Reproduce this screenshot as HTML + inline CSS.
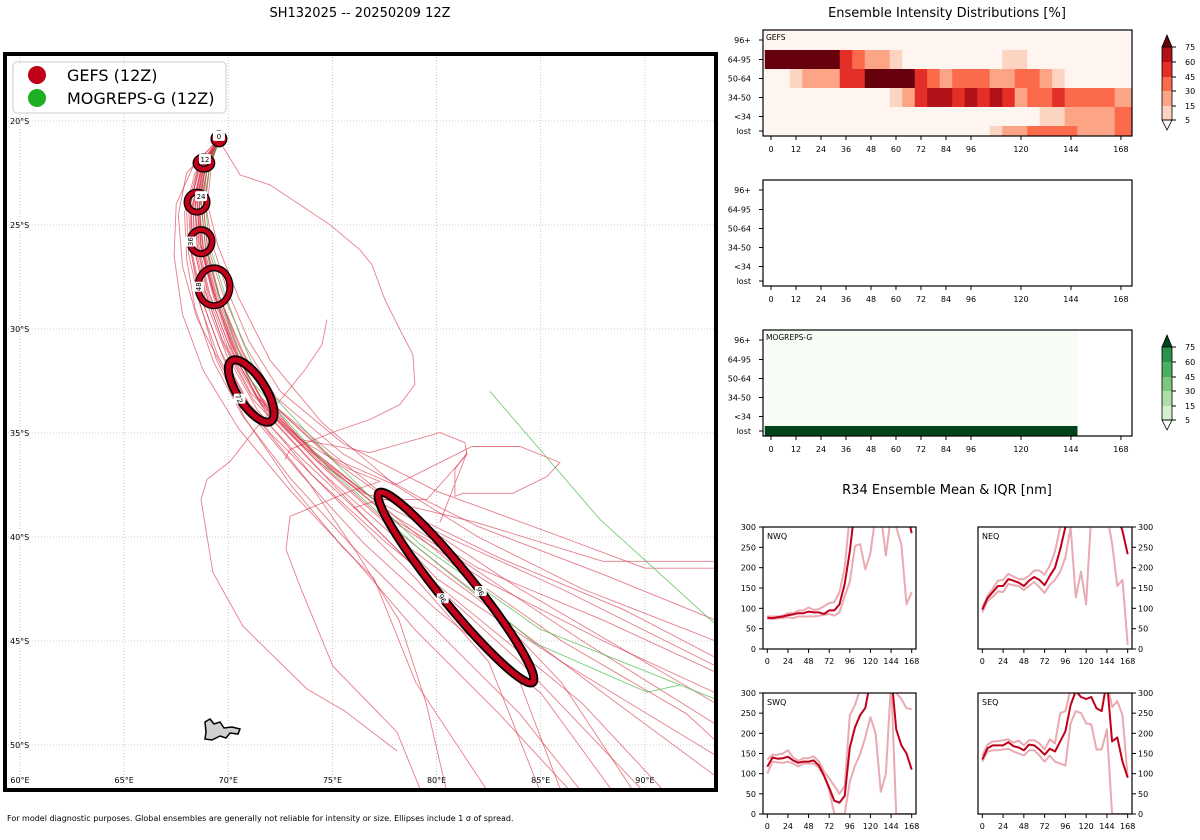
<!DOCTYPE html>
<html><head><meta charset="utf-8"><title>SH132025 ensemble</title>
<style>
html,body{margin:0;padding:0;background:#fff;}
svg{display:block;font-family:"DejaVu Sans","Liberation Sans",sans-serif;}
</style></head>
<body>
<svg id="root" width="1200" height="840" viewBox="0 0 1200 840" xmlns="http://www.w3.org/2000/svg">
<defs>
<clipPath id="mapclip"><rect x="5" y="54" width="711" height="736"/></clipPath>
<clipPath id="c-nwq"><rect x="763" y="527" width="153" height="122"/></clipPath>
<clipPath id="c-neq"><rect x="978" y="527" width="154" height="122"/></clipPath>
<clipPath id="c-swq"><rect x="763" y="693" width="153" height="121"/></clipPath>
<clipPath id="c-seq"><rect x="978" y="693" width="154" height="121"/></clipPath>
<clipPath id="c-h1"><rect x="763" y="30" width="369" height="106"/></clipPath>
<clipPath id="c-h3"><rect x="763" y="330" width="369" height="106"/></clipPath>
</defs>
<text x="360" y="17" font-size="13" text-anchor="middle">SH132025 -- 20250209 12Z</text>
<text x="947" y="17" font-size="13" text-anchor="middle">Ensemble Intensity Distributions [%]</text>
<text x="947" y="494" font-size="13" text-anchor="middle">R34 Ensemble Mean &amp; IQR [nm]</text>
<text x="7" y="821" font-size="8">For model diagnostic purposes. Global ensembles are generally not reliable for intensity or size. Ellipses include 1 σ of spread.</text>
<g id="map"></g>
<g id="heat"></g>
<g id="r34"></g>
</svg>
<script>
// ---------------- DATA ----------------
const gefsTracks = [
 [[69.6,-20.8],[68.9,-22.1],[68.5,-23.9],[68.6,-25.8],[69.2,-28],[70.1,-30.6],[71.5,-33.2],[74,-35.8],[78,-39],[82,-41.5],[88,-44],[93.4,-46.5]],
 [[69.6,-20.8],[68.6,-22.4],[68.1,-24.2],[68.2,-26.3],[68.7,-28.5],[69.6,-31],[71,-33.6],[73.5,-36.2],[77,-39.5],[80.5,-43],[84,-47],[86,-52.3]],
 [[69.6,-20.8],[69,-22.2],[68.7,-24],[68.9,-26],[69.5,-28.2],[70.5,-31],[72,-33.5],[75,-36],[79,-39.2],[84,-42.5],[93.4,-48]],
 [[69.5,-20.9],[68,-22.5],[67.6,-24.5],[67.8,-27],[68.5,-29.5],[69.8,-32],[72,-35],[75,-38],[79,-42],[82.5,-46],[85,-52.3]],
 [[69.6,-20.8],[69.2,-22],[69,-24],[69.5,-26],[70.5,-28.5],[72,-31.5],[74.5,-34.5],[78,-37.5],[82,-40],[87,-42.5],[93.4,-45]],
 [[69.6,-20.8],[68.8,-22.3],[68.4,-24.1],[68.5,-26.1],[69,-28.3],[70,-31],[71.6,-33.7],[74.5,-36.6],[77.5,-39.3],[80,-42],[86,-46],[93.4,-50.5]],
 [[69.6,-20.8],[68.7,-22.2],[68.3,-24],[68.4,-26],[68.9,-28.2],[69.8,-30.8],[71.2,-33.4],[73.8,-36.2],[76.5,-39],[79,-41.5],[84,-46],[90,-52.3]],
 [[69.6,-20.8],[69,-22.3],[68.6,-24.2],[68.8,-26.2],[69.4,-28.4],[70.4,-31.2],[71.8,-33.8],[74.8,-36.6],[78,-39.2],[81,-41],[87,-45],[93.4,-49]],
 [[69.6,-20.8],[68.5,-22.4],[68,-24.3],[68.1,-26.4],[68.6,-28.7],[69.5,-31.3],[71,-34],[73.5,-37],[76.5,-40.3],[80,-43.5],[85,-47.5],[88.5,-52.3]],
 [[69.6,-20.8],[68.9,-22.2],[68.6,-24.1],[68.7,-26.2],[69.3,-28.5],[70.3,-31.3],[71.8,-34],[74.6,-37],[78,-40],[82,-43],[88,-47.5],[93.4,-51.5]],
 [[69.6,-20.8],[68.6,-22.2],[68.2,-24],[68.2,-26.2],[68.6,-28.6],[69.4,-31.4],[70.8,-34.3],[73,-37.5],[75.5,-40.5],[77,-42],[79,-47],[82.5,-52.3]],
 [[69.6,-20.8],[69.1,-22.1],[68.9,-23.9],[69.2,-25.8],[69.9,-28],[71,-30.6],[72.5,-33],[75.5,-35.5],[80,-37.8],[86,-40],[90,-41.5],[93.4,-41.5]],
 [[69.6,-20.8],[69,-22.1],[68.8,-24],[69,-26],[69.7,-28.2],[70.8,-30.8],[72.3,-33.3],[75.5,-36],[79,-38],[82,-39.5],[88,-41.8],[93.4,-44]],
 [[69.6,-20.8],[68.7,-22.3],[68.3,-24.2],[68.4,-26.3],[68.9,-28.6],[69.9,-31.2],[71.4,-33.9],[74,-37],[77.5,-40.2],[81.5,-43.5],[87,-48],[91,-52.3]],
 [[69.6,-20.8],[68.9,-22.3],[68.5,-24.1],[68.7,-26.1],[69.3,-28.3],[70.2,-30.9],[71.7,-33.5],[74.4,-36.3],[78.3,-39.5],[82.5,-42.2],[88,-45],[93.4,-47.5]],
 [[69.6,-20.8],[68.4,-22.5],[67.9,-24.4],[68,-26.6],[68.4,-29],[69.3,-31.6],[70.7,-34.2],[73,-37.2],[76,-40.5],[79.5,-44],[84,-48.5],[87,-52.3]],
 [[69.6,-20.8],[68.3,-22.2],[67.5,-24],[67.4,-26.5],[67.8,-29.3],[68.8,-32],[70.5,-34.8],[73,-37.8],[76,-41],[79,-44.5],[83,-48.5],[86.5,-52.3]],
 [[69.6,-20.8],[69.1,-22.2],[68.8,-24.1],[69,-26.2],[69.6,-28.5],[70.7,-31.1],[72.2,-33.7],[75,-36.3],[78.5,-38.8],[83,-41],[89,-43.5],[93.4,-45.8]],
 [[69.6,-20.8],[68.8,-22.1],[68.4,-23.8],[68.5,-25.9],[69,-28.1],[70,-30.7],[71.4,-33.3],[74.2,-36],[77.5,-38.6],[81,-41.5],[86,-45],[92,-48.5],[93.4,-49.8]],
 [[69.6,-20.8],[68.9,-22.3],[68.6,-24.2],[68.8,-26.3],[69.4,-28.6],[70.4,-31.3],[72,-34],[74.8,-36.8],[78.2,-39.8],[82,-42.8],[86,-47],[89.5,-52.3]],
 [[69.6,-20.8],[68.6,-22.1],[68.2,-23.9],[68.3,-25.9],[68.8,-28],[69.7,-30.5],[71.1,-33.1],[73.7,-35.7],[77,-38.2],[80.5,-40],[86,-42.5],[93.4,-46.2]],
 [[69.6,-20.8],[68.7,-22.4],[68.2,-24.3],[68.3,-26.5],[68.8,-28.8],[69.8,-31.5],[71.3,-34.2],[73.8,-37.3],[76.2,-40.8],[78.2,-44],[79.5,-48],[80.5,-52.3]],
 [[69.55,-20.91],[70.56,-22.59],[72.0,-23.07],[73.44,-24.03],[74.88,-24.99],[76.32,-26.19],[76.9,-26.91],[77.52,-28.59],[78.24,-30.03],[78.86,-31.23],[78.96,-32.67],[78.24,-33.63],[76.8,-34.35],[75.12,-34.93],[72.96,-35.79],[72.72,-36.27]],
 [[74.74,-29.55],[74.5,-30.75],[73.68,-31.95],[72.72,-33.15],[71.28,-34.83],[70.08,-36.37],[68.98,-37.23],[68.69,-38.19],[69.26,-41.7],[70.7,-44.29],[73.78,-47.31],[75.6,-48.37],[78.1,-50.29]],
 [[69.6,-20.8],[68.8,-22.2],[68.5,-24],[68.7,-26],[69.3,-28.2],[70.3,-30.8],[71.28,-33.15],[73.44,-35.31],[75.84,-36.75],[77.28,-37.33],[75.84,-37.81],[72.96,-39.01],[72.77,-40.59],[73.44,-42.37],[75.02,-46.21],[78.1,-49.38],[79.2,-52.1]],
 [[69.6,-20.8],[68.9,-22.2],[68.6,-24],[68.8,-26],[69.4,-28.2],[70.4,-30.9],[71.9,-33.4],[73.44,-35.31],[76.8,-35.94],[80.16,-34.98],[81.36,-35.46],[81.46,-36.03],[79.54,-38.19],[77.28,-38.19],[76,-38.6]],
 [[69.6,-20.8],[69,-22.2],[68.7,-24],[68.9,-26.1],[69.5,-28.3],[70.6,-31],[72.1,-33.6],[75,-36.2],[78,-37.5],[81.7,-35.65],[84.0,-35.65],[85.92,-36.42],[85.3,-37.09],[83.66,-37.9],[81.26,-37.9],[80.88,-38.05],[80.88,-36.75],[81.46,-35.94],[80.16,-39.3]],
 [[69.6,-20.8],[68.8,-22.3],[68.4,-24.1],[68.6,-26.1],[69.1,-28.3],[70.1,-31],[71.6,-33.6],[74.2,-36.3],[76.5,-37.9],[78.72,-38.53],[81.9,-39.3],[87.98,-41.17],[93.4,-41.17]]
];
const mogrepsTracks = [
 [[69.6,-20.8],[69,-22.2],[68.7,-24],[68.9,-26],[69.5,-28.2],[70.2,-30.3],[71.04,-32.43],[74.88,-36.75],[79.2,-40.59],[84.72,-45.1],[90.1,-47.46],[91.68,-47.12]],
 [[69.6,-20.8],[69.1,-22.2],[68.9,-24],[69.1,-26],[69.8,-28.2],[70.6,-30.4],[71.5,-32.5],[75.2,-36.5],[79.2,-40.35],[84.96,-44.43],[93.4,-47.8]],
 [[82.56,-33.0],[87.84,-39.15],[93.4,-44.2]]
];
const ellHours = [0,12,24,36,48,72,96];
const ellLon = [69.55,68.83,68.5,68.69,69.31,71.1,80.93];
const ellLat = [-20.86,-22.02,-23.9,-25.8,-27.97,-32.98,-42.43];
const ellA = [0.24,0.38,0.48,0.53,0.77,1.73,5.86];
const ellB = [0.24,0.29,0.48,0.58,0.91,0.67,0.82];
const ellRot = [0,0,0,0,0,57,51];

const heatHours = [0,6,12,18,24,30,36,42,48,54,60,66,72,78,84,90,96,102,108,114,120,126,132,138,144,150,156,162,168,174];
const rowLabels = ['96+','64-95','50-64','34-50','<34','lost'];
const gefs96 = [0,0,0,0,0,0,0,0,0,0,0,0,0,0,0,0,0,0,0,0,0,0,0,0,0,0,0,0,0,0];
const gefs6495 = [80,80,80,80,80,80,50,35,20,20,10,0,0,0,0,0,0,0,0,10,10,0,0,0,0,0,0,0,0,0];
const gefs5064 = [0,0,10,20,20,20,50,50,80,80,80,80,50,35,20,35,35,35,20,20,35,35,20,10,0,0,0,0,0,0];
const gefs3450 = [0,0,0,0,0,0,0,0,0,0,10,20,50,65,65,50,65,50,65,50,20,35,35,50,35,35,35,35,20,20];
const gefsLt34 = [0,0,0,0,0,0,0,0,0,0,0,0,0,0,0,0,0,0,0,0,0,0,10,10,20,20,20,20,35,35];
const gefsLost = [0,0,0,0,0,0,0,0,0,0,0,0,0,0,0,0,0,0,10,20,20,35,35,35,35,20,20,20,35,35];
const mogHours = [0,6,12,18,24,30,36,42,48,54,60,66,72,78,84,90,96,102,108,114,120,126,132,138,144];
const mog96 = mogHours.map(()=>0);
const mog6495 = mogHours.map(()=>0);
const mog5064 = mogHours.map(()=>0);
const mog3450 = mogHours.map(()=>0);
const mogLt34 = mogHours.map(()=>0);
const mogLost = mogHours.map(()=>100);
const xTickHours = [0,12,24,36,48,60,72,84,96,120,144,168];
const cbTicks = [75,60,45,30,15,5];

const r34Hours = [0,6,12,18,24,30,36,42,48,54,60,66,72,78,84,90,96,102,108,114,120,126,132,138,144,150,156,162,168];
const nwqMean = [77,76,78,80,83,85,88,88,92,90,90,86,95,95,110,160,240,350,350,350,350,350,350,350,350,350,350,340,285];
const nwqLo = [75,74,75,76,78,76,80,80,80,80,82,84,86,82,90,130,165,253,258,196,235,330,330,230,330,300,256,110,140];
const nwqHi = [80,80,80,82,88,88,94,95,102,96,98,105,113,115,140,200,330,350,350,350,350,350,350,350,350,350,350,350,350];
const neqMean = [97,125,140,155,155,172,168,163,155,168,177,170,157,180,200,245,300,350,350,350,350,350,350,350,350,350,330,290,233];
const neqHi = [102,130,148,168,170,185,178,172,172,180,193,193,183,205,240,300,350,350,350,350,350,350,350,350,350,350,350,350,350];
const neqLo = [90,118,128,142,140,160,157,155,145,155,165,152,138,158,170,190,225,300,127,190,110,330,350,350,330,260,155,170,10];
const swqMean = [117,140,137,138,142,133,127,130,130,133,120,95,65,33,28,45,165,215,245,263,330,350,350,350,350,210,170,150,110];
const swqHi = [135,147,147,150,158,140,132,138,138,143,130,105,88,70,50,70,245,270,310,350,350,350,350,350,350,300,285,262,260];
const swqLo = [100,130,128,127,130,125,118,125,125,125,115,95,60,0,0,0,80,120,148,190,240,200,55,100,330,0,0,0,0];
const seqMean = [135,163,170,170,170,178,168,165,158,172,170,160,147,162,155,180,205,270,305,290,285,290,262,255,330,180,190,130,90];
const seqHi = [145,172,180,180,183,185,177,182,170,183,183,175,160,185,175,250,255,310,350,350,350,350,350,330,330,265,280,245,90];
const seqLo = [130,155,158,158,160,162,155,150,145,158,158,145,130,145,130,125,120,225,255,250,225,222,160,160,210,0,0,0,0];
const r34XTicks = [0,24,48,72,96,120,144,168];
const r34YTicks = [0,50,100,150,200,250,300];

// ---------------- DRAWING ----------------
const NS='http://www.w3.org/2000/svg';
function mk(tag, attrs, parent){const e=document.createElementNS(NS,tag);for(const k in attrs)e.setAttribute(k,attrs[k]);parent.appendChild(e);return e;}
function txt(s,attrs,parent){const e=mk('text',attrs,parent);e.textContent=s;return e;}

const map=document.getElementById('map');
const mx=lon=>20+(lon-60)*20.83;
const my=lat=>121+(-lat-20)*20.8;
const mapBg=mk('rect',{x:5,y:54,width:711,height:736,fill:'#fff'},map);


const grid=mk('g',{'clip-path':'url(#mapclip)',stroke:'#bbb','stroke-width':0.8,'stroke-dasharray':'1,2'},map);


const lonTicks=[60,65,70,75,80,85,90], latTicks=[-20,-25,-30,-35,-40,-45,-50];
lonTicks.forEach(l=>{const g=mk('line',{x1:mx(l),x2:mx(l),y1:54,y2:790},grid);


const t=txt(l+'°E',{x:mx(l),y:783,'font-size':8,'text-anchor':'middle'},map);

});
latTicks.forEach(l=>{const g=mk('line',{x1:5,x2:716,y1:my(l),y2:my(l)},grid);


const t=txt((-l)+'°S',{x:10,y:my(l)+3,'font-size':8},map);

});
const tracksG=mk('g',{'clip-path':'url(#mapclip)',fill:'none'},map);


gefsTracks.forEach(tr=>{const p=mk('polyline',{points:tr.map(q=>mx(q[0]).toFixed(1)+','+my(q[1]).toFixed(1)).join(' '),stroke:'#d9384c','stroke-opacity':0.65,'stroke-width':0.9},tracksG);

});
mogrepsTracks.forEach(tr=>{const p=mk('polyline',{points:tr.map(q=>mx(q[0]).toFixed(1)+','+my(q[1]).toFixed(1)).join(' '),stroke:'#3fb73f','stroke-opacity':0.7,'stroke-width':0.9},tracksG);

});
const isl=mk('path',{d:'M205,722 L210,719 L214,724 L220,722 L224,728 L232,727 L240,729 L238,734 L230,733 L226,738 L220,736 L212,740 L205,739 L206,732 Z',fill:'#d0d0d0',stroke:'#000','stroke-width':1.5},map);


const ellG=mk('g',{'clip-path':'url(#mapclip)'},map);


ellHours.forEach((h,i)=>{const cx=mx(ellLon[i]),cy=my(ellLat[i]),rx=ellA[i]*20.83,ry=ellB[i]*20.8;
const big=rx>30;
const e1=mk('ellipse',{cx:cx,cy:cy,rx:rx,ry:ry,fill:'none',stroke:'#000','stroke-width':big?9:7,transform:'rotate('+ellRot[i]+' '+cx+' '+cy+')'},ellG);


const e2=mk('ellipse',{cx:cx,cy:cy,rx:rx,ry:ry,fill:'none',stroke:'#c0001a','stroke-width':big?5.5:4.5,transform:'rotate('+ellRot[i]+' '+cx+' '+cy+')'},ellG);


const th=Math.PI*ellRot[i]/180;
let lxx=cx-rx, lyy=cy;
if(big){lxx=cx-ry*Math.sin(th); lyy=cy+ry*Math.cos(th);}
if(i===0){lxx=cx;lyy=cy-3;}
if(i===1){lxx=cx+1;lyy=cy-4;}
if(i===2){lxx=cx+4;lyy=cy-6;}
const lbg=mk('rect',{x:lxx-6,y:lyy-5,width:12,height:10,fill:'#fff',rx:2},ellG);


const lt=txt(String(h),{x:lxx,y:lyy+3,fill:'#000','font-size':7,'text-anchor':'middle',transform:'rotate('+(big?ellRot[i]+10:(i>2?-90:0))+' '+lxx+' '+lyy+')'},ellG);


if(i===6){const lx2=cx+ry*Math.sin(th)+rx*0.15*Math.cos(th), ly2=cy-ry*Math.cos(th)+rx*0.15*Math.sin(th);
const b2=mk('rect',{x:lx2-6,y:ly2-5,width:12,height:10,fill:'#fff',rx:2},ellG);


const t2=txt('96',{x:lx2,y:ly2+3,fill:'#000','font-size':7,'text-anchor':'middle',transform:'rotate('+(ellRot[i]+10)+' '+lx2+' '+ly2+')'},ellG);

}
});
const frame=mk('rect',{x:5,y:54,width:711,height:736,fill:'none',stroke:'#000','stroke-width':4},map);


const leg=mk('g',{},map);


const lb=mk('rect',{x:13,y:62,width:213,height:51,rx:4,fill:'#fff','fill-opacity':0.85,stroke:'#ccc'},leg);


const l1=mk('circle',{cx:37,cy:75,r:9,fill:'#c0001a'},leg);


const l1t=txt('GEFS (12Z)',{x:67,y:81,'font-size':16},leg);


const l2=mk('circle',{cx:37,cy:98,r:9,fill:'#1eb024'},leg);


const l2t=txt('MOGREPS-G (12Z)',{x:67,y:104,'font-size':16},leg);



const heat=document.getElementById('heat');
const hx=h=>771+h*2.083;
const rowTopFrac=[0,20,39,58,77,96], rowH=[20,19,19,19,19,10];
const redCols=['#fff5f0','#fdd4c2','#fca486','#fb6b4b','#e32f27','#b11218','#67000d'];
const grnCols=['#f7fcf5','#d5efcf','#addea6','#7bc87c','#4bb062','#2a924a','#00441b'];
const bounds=[5,15,30,45,60,75];
function lvl(p){let k=0;while(k<bounds.length&&p>=bounds[k])k++;return k;}
function heatPanel(top,name,rows,hours,cols,clip,label){
 const g=mk('g',{},heat);
 
 
 const bg=mk('rect',{x:763,y:top,width:369,height:106,fill:'#fff'},g);
 
 
 if(rows){const cg=mk('g',{'clip-path':clip?'url(#'+clip+')':''},g);
  rows.forEach((r,ri)=>{r.forEach((v,ci)=>{const x0=hx(hours[ci]-3);
   const c=mk('rect',{x:x0.toFixed(2),y:top+rowTopFrac[ri],width:(2.083*6+0.3).toFixed(2),height:rowH[ri],fill:cols[lvl(v)]},cg);
   
   });});}
 rowLabels.forEach((l,ri)=>{const yy=top+rowTopFrac[ri]+rowH[ri]/2;
  const t=txt(l,{x:751,y:yy+3,'font-size':8,'text-anchor':'end'},g);
  
  
  const tk=mk('line',{x1:759,x2:763,y1:yy,y2:yy,stroke:'#000'},g);
  
  });
 xTickHours.forEach(h=>{const tk=mk('line',{x1:hx(h),x2:hx(h),y1:top+106,y2:top+110,stroke:'#000'},g);
  
  
  const t=txt(String(h),{x:hx(h),y:top+122,'font-size':8,'text-anchor':'middle'},g);
  
  });
 const fr=mk('rect',{x:763,y:top,width:369,height:106,fill:'none',stroke:'#000','stroke-width':1.2},g);
 
 
 if(label){const t=txt(label,{x:766,y:top+10,'font-size':7.5},g);
  
  }
}
heatPanel(30,'gefs-heatmap',[gefs96,gefs6495,gefs5064,gefs3450,gefsLt34,gefsLost],heatHours,redCols,'c-h1','GEFS');
heatPanel(180,'empty-heatmap',null,null,null,null,null);
heatPanel(330,'mogreps-heatmap',[mog96,mog6495,mog5064,mog3450,mogLt34,mogLost],mogHours,grnCols,'c-h3','MOGREPS-G');
function colorbar(top,cols,name){
 const g=mk('g',{},heat);
 
 
 const ty=[top+17,top+32,top+47,top+61,top+76,top+90];
 const up=mk('polygon',{points:'1162,'+ty[0]+' 1172,'+ty[0]+' 1167,'+(top+5),fill:cols[6],stroke:'#000','stroke-width':0.8},g);
 
 
 for(let k=0;k<5;k++){const s=mk('rect',{x:1162,y:ty[k],width:10,height:ty[k+1]-ty[k],fill:cols[5-k]},g);
  
  }
 const dn=mk('polygon',{points:'1162,'+ty[5]+' 1172,'+ty[5]+' 1167,'+(top+100),fill:cols[0],stroke:'#000','stroke-width':0.8},g);
 
 
 const o=mk('rect',{x:1162,y:ty[0],width:10,height:ty[5]-ty[0],fill:'none',stroke:'#000','stroke-width':0.8},g);
 
 
 cbTicks.forEach((v,k)=>{const tk=mk('line',{x1:1172,x2:1176,y1:ty[k],y2:ty[k],stroke:'#000'},g);
  
  
  const t=txt(String(v),{x:1185,y:ty[k]+3,'font-size':8},g);
  
  });
}
colorbar(30,redCols,'gefs-colorbar');
colorbar(330,grnCols,'mogreps-colorbar');

const r34=document.getElementById('r34');
function r34Panel(name,label,x0,w,top,h,right,clip,mean,lo,hi){
 const g=mk('g',{},r34);
 
 
 const sx=t=>x0+(t+5)*w/178, sy=v=>top+h-v*h/300;
 const lg=mk('g',{'clip-path':'url(#'+clip+')',fill:'none','stroke-linejoin':'round'},g);
 [lo,hi].forEach(arr=>{const p=mk('polyline',{points:arr.map((v,i)=>sx(r34Hours[i]).toFixed(1)+','+sy(v).toFixed(1)).join(' '),stroke:'#eaaab2','stroke-width':2},lg);
  
  });
 const pm=mk('polyline',{points:mean.map((v,i)=>sx(r34Hours[i]).toFixed(1)+','+sy(v).toFixed(1)).join(' '),stroke:'#c0001a','stroke-width':2},lg);
 
 
 const fr=mk('rect',{x:x0,y:top,width:w,height:h,fill:'none',stroke:'#000','stroke-width':1.2},g);
 
 
 r34XTicks.forEach(t=>{const tk=mk('line',{x1:sx(t),x2:sx(t),y1:top+h,y2:top+h+4,stroke:'#000'},g);
  
  
  const tl=txt(String(t),{x:sx(t),y:top+h+15,'font-size':8,'text-anchor':'middle'},g);
  
  });
 r34YTicks.forEach(v=>{const xa=right?x0+w:x0;const tk=mk('line',{x1:xa,x2:right?xa+4:xa-4,y1:sy(v),y2:sy(v),stroke:'#000'},g);
  
  
  const tl=txt(String(v),{x:right?xa+6:xa-7,y:sy(v)+3,'font-size':8,'text-anchor':right?'start':'end'},g);
  
  });
 const pl=txt(label,{x:x0+4,y:top+12,'font-size':8},g);
 
 
}
r34Panel('nwq-panel','NWQ',763,153,527,122,false,'c-nwq',nwqMean,nwqLo,nwqHi);
r34Panel('neq-panel','NEQ',978,154,527,122,true,'c-neq',neqMean,neqLo,neqHi);
r34Panel('swq-panel','SWQ',763,153,693,121,false,'c-swq',swqMean,swqLo,swqHi);
r34Panel('seq-panel','SEQ',978,154,693,121,true,'c-seq',seqMean,seqLo,seqHi);
</script>
</body></html>
